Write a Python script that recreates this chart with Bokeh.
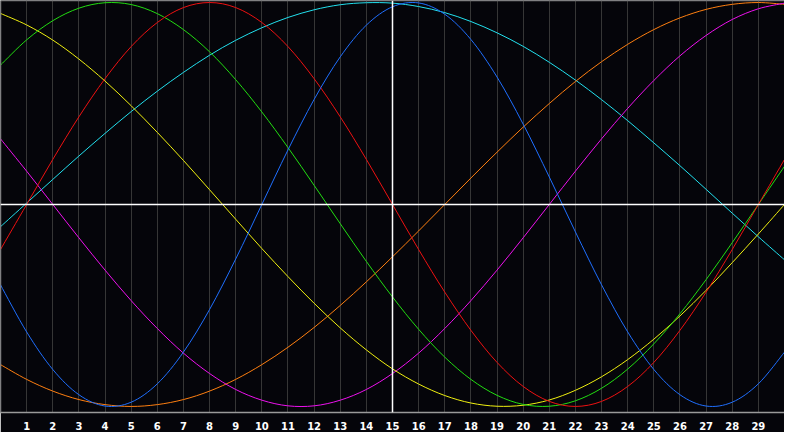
from bokeh.plotting import figure
from bokeh.models import Range1d, FixedTicker, Span
from bokeh.embed import file_html
from bokeh.resources import INLINE

# day index along the x axis
days = list(range(0, 31))
tick_days = list(range(1, 30))
tick_labels = {d: str(d) for d in tick_days}
today = 15

# cycle values in percent at each day
physical = [-39.8, -63.1, -81.7, -94.2, -99.8, -97.9, -88.8, -73.1, -52.0, -27.0, 0, 27.0,
            52.0, 73.1, 88.8, 97.9, 99.8, 94.2, 81.7, 63.1, 39.8, 13.6, -13.6, -39.8,
            -63.1, -81.7, -94.2, -99.8, -97.9, -88.8, -73.1]
emotional = [-22.3, 0, 22.3, 43.4, 62.3, 78.2, 90.1, 97.5, 100, 97.5, 90.1, 78.2, 62.3,
             43.4, 22.3, 0, -22.3, -43.4, -62.3, -78.2, -90.1, -97.5, -100, -97.5, -90.1,
             -78.2, -62.3, -43.4, -22.3, 0, 22.3]
intellectual = [69.0, 81.5, 91.0, 97.2, 99.9, 99.0, 94.5, 86.6, 75.6, 61.8, 45.8, 28.2,
                9.5, -9.5, -28.2, -45.8, -61.8, -75.6, -86.6, -94.5, -99.0, -99.9, -97.2,
                -91.0, -81.5, -69.0, -54.1, -37.2, -18.9, 0, 18.9]
intuitive = [32.5, 16.5, 0, -16.5, -32.5, -47.6, -61.4, -73.6, -83.7, -91.6, -96.9, -99.7,
             -99.7, -96.9, -91.6, -83.7, -73.6, -61.4, -47.6, -32.5, -16.5, 0, 16.5, 32.5,
             47.6, 61.4, 73.6, 83.7, 91.6, 96.9, 99.7]
aesthetic = [94.6, 88.9, 81.4, 72.0, 61.1, 48.9, 35.7, 21.8, 7.3, -7.3, -21.8, -35.7,
             -48.9, -61.1, -72.0, -81.4, -88.9, -94.6, -98.3, -99.9, -99.4, -96.8, -92.0,
             -85.3, -76.8, -66.7, -55.2, -42.5, -28.8, -14.6, 0]
awareness = [-79.3, -86.6, -92.4, -96.6, -99.1, -100, -99.1, -96.6, -92.4, -86.6, -79.3,
             -70.7, -60.9, -50.0, -38.3, -25.9, -13.1, 0, 13.1, 25.9, 38.3, 50.0, 60.9,
             70.7, 79.3, 86.6, 92.4, 96.6, 99.1, 100, 99.1]
spiritual = [-11.0, 0.7, 12.4, 24.0, 35.2, 46.0, 56.1, 65.4, 73.9, 81.3, 87.5, 92.6, 96.4,
             98.9, 99.9, 99.7, 98.0, 95.0, 90.6, 85.0, 78.3, 70.4, 61.6, 51.9, 41.5, 30.5,
             19.2, 7.5, -4.3, -16.0, -27.4]

series = [
    (spiritual, "#22e0ee"),
    (awareness, "#ff7f10"),
    (intuitive, "#ee11ee"),
    (aesthetic, "#f0f010"),
    (intellectual, "#22dd11"),
    (emotional, "#ee1111"),
    (physical, "#1f6fff"),
]

BG = "#05050a"


def smooth_segments(xs, ys):
    """Catmull-Rom curve through the given points, as cubic Bezier segments."""
    n = len(xs)
    seg = dict(x0=[], y0=[], x1=[], y1=[], cx0=[], cy0=[], cx1=[], cy1=[])
    for i in range(n - 1):
        a = max(i - 1, 0)
        b = min(i + 2, n - 1)
        seg["x0"].append(xs[i]); seg["y0"].append(ys[i])
        seg["x1"].append(xs[i + 1]); seg["y1"].append(ys[i + 1])
        seg["cx0"].append(xs[i] + (xs[i + 1] - xs[a]) / 6.0)
        seg["cy0"].append(ys[i] + (ys[i + 1] - ys[a]) / 6.0)
        seg["cx1"].append(xs[i + 1] - (xs[b] - xs[i]) / 6.0)
        seg["cy1"].append(ys[i + 1] - (ys[b] - ys[i]) / 6.0)
    return seg


p = figure(width=784, height=432, output_backend="svg", toolbar_location=None,
           x_range=Range1d(0, 30), y_range=Range1d(-103, 101),
           background_fill_color=BG, border_fill_color=BG,
           min_border_left=0, min_border_right=0, min_border_top=0, min_border_bottom=20)
p.outline_line_color = None
p.yaxis.visible = False
p.ygrid.grid_line_color = None

p.xgrid.ticker = FixedTicker(ticks=tick_days)
p.xgrid.grid_line_color = "#363636"
p.xgrid.grid_line_width = 1

ax = p.xaxis[0]
ax.ticker = FixedTicker(ticks=tick_days)
ax.major_label_overrides = tick_labels
ax.major_tick_line_color = None
ax.minor_tick_line_color = None
ax.axis_line_color = "#9a9a9a"
ax.axis_line_width = 1.5
ax.major_label_text_color = "white"
ax.major_label_text_font = "DejaVu Sans"
ax.major_label_text_font_style = "bold"
ax.major_label_text_font_size = "10px"
ax.major_label_standoff = 3

# frame edges on left and top
p.add_layout(Span(location=0, dimension="height", line_color="#808080", line_width=1.5))
p.add_layout(Span(location=101, dimension="width", line_color="#808080", line_width=1.5))

# zero line and today marker
p.add_layout(Span(location=0, dimension="width", line_color="white", line_width=1.5))
p.add_layout(Span(location=today, dimension="height", line_color="white", line_width=1.5))

for vals, col in series:
    s = smooth_segments(days, vals)
    p.bezier(x0=s["x0"], y0=s["y0"], x1=s["x1"], y1=s["y1"],
             cx0=s["cx0"], cy0=s["cy0"], cx1=s["cx1"], cy1=s["cy1"],
             line_color=col, line_width=1)

open("out.html", "w").write(file_html(p, INLINE))
